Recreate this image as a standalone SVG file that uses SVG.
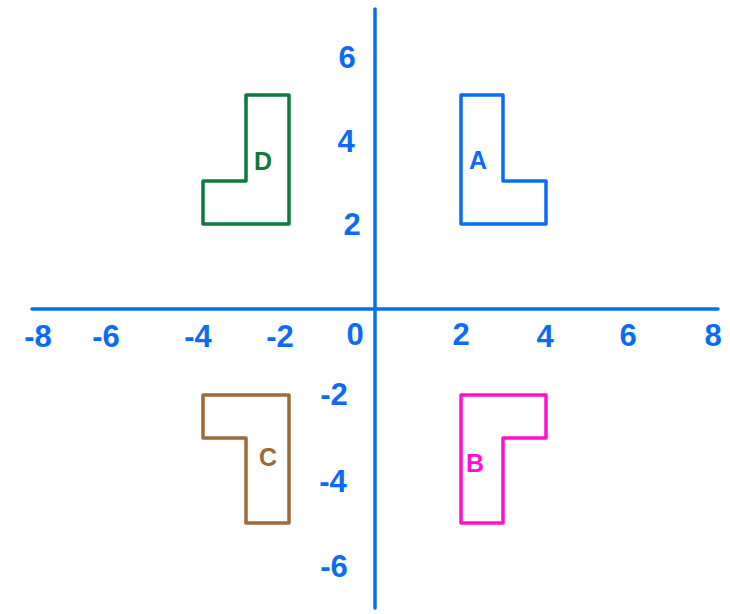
<svg xmlns="http://www.w3.org/2000/svg" width="730" height="614" viewBox="0 0 730 614">
<style>
.ax{stroke:#0a6cf2;stroke-width:3.5;stroke-linecap:round;fill:none}
.shape{fill:none;stroke-width:3.5;stroke-linejoin:round}
.num{font-family:"Liberation Sans",Arial,sans-serif;font-size:31px;fill:#0a6cf2;text-anchor:middle;font-weight:bold}
.lbl{font-family:"Liberation Sans",Arial,sans-serif;font-size:25px;text-anchor:middle;font-weight:bold}
</style>
<rect width="730" height="614" fill="#ffffff"/>
<g id="connectors">
<line class="ax" x1="32" y1="309" x2="718" y2="309"/>
<line class="ax" x1="375" y1="9" x2="375" y2="608"/>
</g>
<g id="x-labels">
<text class="num" x="38" y="347">-8</text>
<text class="num" x="106" y="347">-6</text>
<text class="num" x="198" y="347">-4</text>
<text class="num" x="280" y="347">-2</text>
<text class="num" x="355" y="345">0</text>
<text class="num" x="461" y="345">2</text>
<text class="num" x="545" y="347">4</text>
<text class="num" x="628" y="346">6</text>
<text class="num" x="713" y="346">8</text>
</g>
<g id="y-labels">
<text class="num" x="347" y="68">6</text>
<text class="num" x="346" y="152">4</text>
<text class="num" x="352" y="235">2</text>
<text class="num" x="334" y="405">-2</text>
<text class="num" x="333" y="492">-4</text>
<text class="num" x="334" y="577">-6</text>
</g>
<g id="A">
<polygon class="shape" stroke="#0a6cf2" points="461,95 503,95 503,181 546,181 546,224 461,224"/>
<text class="lbl" fill="#0a6cf2" x="478" y="169">A</text>
</g>
<g id="B">
<polygon class="shape" stroke="#ff10d0" points="461,395 546,395 546,438 503,438 503,523 461,523"/>
<text class="lbl" fill="#ff10d0" x="475" y="472">B</text>
</g>
<g id="C">
<polygon class="shape" stroke="#9c6b3a" points="289,395 203,395 203,438 246,438 246,523 289,523"/>
<text class="lbl" fill="#9c6b3a" x="268" y="466">C</text>
</g>
<g id="D">
<polygon class="shape" stroke="#0d7a3e" points="289,95 246,95 246,181 203,181 203,224 289,224"/>
<text class="lbl" fill="#0d7a3e" x="263" y="170">D</text>
</g>
</svg>
